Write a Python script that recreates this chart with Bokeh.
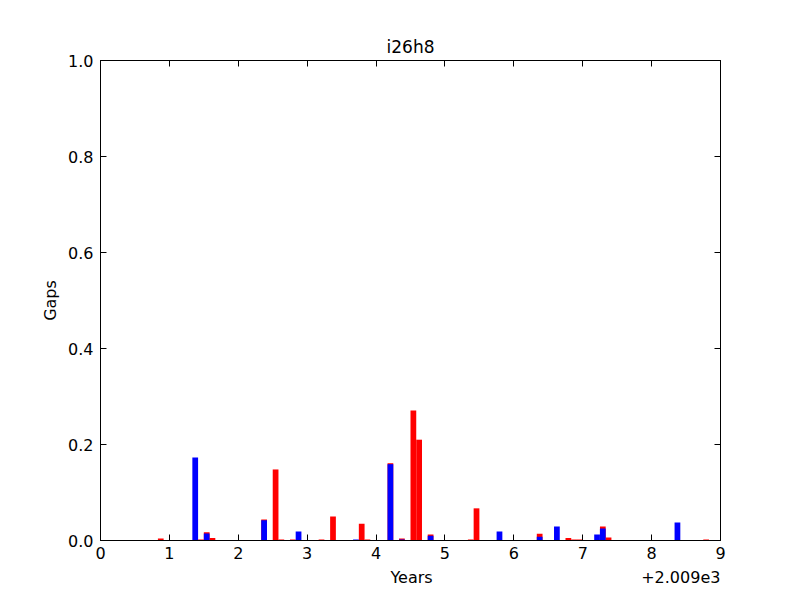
from bokeh.plotting import figure
from bokeh.models import (LinearAxis, FixedTicker, CustomJSTickFormatter,
                          NumeralTickFormatter, Range1d)
from bokeh.embed import file_html
from bokeh.resources import INLINE

title = "i26h8"
x_label = "Years"
y_label = "Gaps"
offset_text = "+2.009e3"
base_year = 2009
bar_width = 1 / 12

# months since Jan 2009 and gap values
red_months = [10, 17, 18, 19, 28, 30, 31, 33, 38, 40, 45, 46, 50, 52, 54, 55,
              57, 64, 65, 76, 81, 82, 83, 87, 88, 105]
red_values = [0.004, 0.002, 0.017, 0.005, 0.044, 0.148, 0.002, 0.002, 0.002,
              0.050, 0.035, 0.002, 0.161, 0.004, 0.271, 0.210, 0.0125, 0.002,
              0.067, 0.014, 0.005, 0.002, 0.002, 0.029, 0.006, 0.002]

blue_months = [16, 18, 28, 34, 44, 50, 52, 57, 69, 76, 79, 86, 87, 100]
blue_values = [0.173, 0.0146, 0.042, 0.019, 0.002, 0.159, 0.002, 0.010,
               0.019, 0.008, 0.029, 0.0125, 0.025, 0.0375]

x_ticks = [2009, 2010, 2011, 2012, 2013, 2014, 2015, 2016, 2017, 2018]
y_ticks = [0.0, 0.2, 0.4, 0.6, 0.8, 1.0]

red_x = [base_year + m / 12 for m in red_months]
blue_x = [base_year + m / 12 for m in blue_months]

FONT = "DejaVu Sans"
FS = "16px"
NBSP = "\u00a0"

p = figure(frame_width=620, frame_height=480, output_backend="svg",
           toolbar_location=None, x_range=Range1d(2009, 2018),
           y_range=Range1d(0, 1), title=title)
p.min_border_left = 100
p.min_border_right = 72
p.min_border_top = 60
p.min_border_bottom = 52
p.background_fill_color = "white"
p.border_fill_color = "white"
p.outline_line_color = "black"
p.outline_line_width = 1
p.xgrid.visible = False
p.ygrid.visible = False

p.title.align = "center"
p.title.text_font = FONT
p.title.text_font_size = "17px"
p.title.text_font_style = "normal"
p.title.text_color = "black"
p.title.standoff = 7

p.quad(left=red_x, right=[x + bar_width for x in red_x], bottom=0, top=red_values,
       fill_color="red", line_color=None)
p.quad(left=blue_x, right=[x + bar_width for x in blue_x], bottom=0, top=blue_values,
       fill_color="blue", line_color=None)

fmt_x = CustomJSTickFormatter(code="return (tick - %d).toFixed(0);" % base_year)

def style(ax, labels=True):
    ax.major_tick_in = 6
    ax.major_tick_out = 0
    ax.minor_tick_line_color = None
    ax.axis_line_color = "black"
    ax.major_tick_line_color = "black"
    ax.major_label_text_font = FONT
    ax.major_label_text_font_size = FS
    ax.major_label_text_color = "black" if labels else None
    ax.axis_label_text_font = FONT
    ax.axis_label_text_font_size = FS
    ax.axis_label_text_font_style = "normal"
    ax.axis_label_text_color = "black"

xa = p.xaxis[0]
xa.ticker = FixedTicker(ticks=x_ticks)
xa.formatter = fmt_x
# centred "Years" with the offset text right-aligned to the frame edge
xa.axis_label = NBSP * 57 + x_label + NBSP * 41 + offset_text
xa.axis_label_align = "center"
xa.major_label_standoff = 6
xa.axis_label_standoff = 6
style(xa)

ya = p.yaxis[0]
ya.ticker = FixedTicker(ticks=y_ticks)
ya.formatter = NumeralTickFormatter(format="0.0")
ya.axis_label = y_label
ya.major_label_standoff = 7
ya.axis_label_standoff = 5
style(ya)

top = LinearAxis(ticker=FixedTicker(ticks=x_ticks), formatter=fmt_x)
style(top, labels=False)
top.major_label_text_font_size = "0px"
p.add_layout(top, "above")

right = LinearAxis(ticker=FixedTicker(ticks=y_ticks))
style(right, labels=False)
right.major_label_text_font_size = "0px"
p.add_layout(right, "right")

open("out.html", "w").write(file_html(p, INLINE))
